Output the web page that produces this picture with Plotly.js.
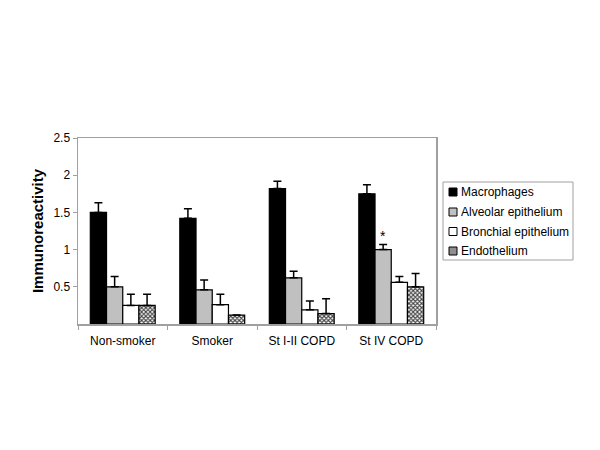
<!DOCTYPE html>
<html>
<head>
<meta charset="utf-8">
<script src="https://cdn.plot.ly/plotly-3.0.1.min.js"></script>
<style>html,body{margin:0;padding:0;background:#fff;}#chart{width:600px;height:450px;}</style>
</head>
<body>
<div id="chart"></div>
<script>
var categories = ["Non-smoker", "Smoker", "St I-II COPD", "St IV COPD"];
var seriesNames = ["Macrophages", "Alveolar epithelium", "Bronchial epithelium", "Endothelium"];
var macrophages = [1.50, 1.42, 1.82, 1.75];
var macrophagesErr = [0.13, 0.13, 0.10, 0.12];
var alveolar = [0.50, 0.46, 0.62, 1.00];
var alveolarErr = [0.14, 0.13, 0.09, 0.07];
var bronchial = [0.25, 0.26, 0.19, 0.56];
var bronchialErr = [0.15, 0.14, 0.12, 0.08];
var endothelium = [0.25, 0.12, 0.14, 0.50];
var endotheliumErr = [0.15, null, 0.20, 0.18];
var yTicks = [0.5, 1, 1.5, 2, 2.5];
var yTickLabels = ["0.5", "1", "1.5", "2", "2.5"];

var values = [macrophages, alveolar, bronchial, endothelium];
var errs = [macrophagesErr, alveolarErr, bronchialErr, endotheliumErr];
var fills = ["#000000", "#c0c0c0", "#ffffff", "#ffffff"];

var traces = values.map(function (v, i) {
  var t = {
    type: "bar",
    name: seriesNames[i],
    x: categories,
    y: v,
    marker: { color: fills[i], line: { color: "#000", width: 1.2 } },
    error_y: {
      type: "data", symmetric: false,
      array: errs[i], arrayminus: errs[i].map(function () { return 0; }),
      color: "#000", thickness: 1.5, width: 4
    },
    showlegend: false,
    hoverinfo: "x+y+name"
  };
  if (i === 3) {
    t.marker.pattern = { shape: "x", size: 3, solidity: 0.6, fgcolor: "#444", bgcolor: "#fff" };
  }
  return t;
});

// plot area in pixels: x 78..436, y 138..324
var L = 78, R = 436, T = 138, B = 324;
function px(x) { return (x - L) / (R - L); }
function py(y) { return (B - y) / (B - T); }

var shapes = [
  { type: "rect", xref: "paper", yref: "paper", x0: px(443), x1: px(573), y0: py(260), y1: py(182),
    line: { color: "#a0a0a0", width: 1 }, fillcolor: "rgba(0,0,0,0)" }
];
var annotations = [];
var itemY = [192, 212, 231.5, 251];
seriesNames.forEach(function (n, i) {
  var sq = { type: "rect", xref: "paper", yref: "paper",
    x0: px(449), x1: px(457), y0: py(itemY[i] + 4), y1: py(itemY[i] - 4),
    line: { color: "#000", width: 1 }, fillcolor: i === 3 ? "#8f8f8f" : fills[i] };
  shapes.push(sq);
  annotations.push({ xref: "paper", yref: "paper", x: px(459), y: py(itemY[i]),
    xanchor: "left", yanchor: "middle", text: n, showarrow: false,
    font: { family: "Arial, Liberation Sans, sans-serif", size: 12, color: "#000" } });
});
annotations.push({ x: categories[3], y: alveolar[3] + alveolarErr[3], xref: "x", yref: "y",
  xshift: -8, yshift: -2, yanchor: "bottom", text: "*", showarrow: false,
  font: { family: "Arial, Liberation Sans, sans-serif", size: 14, color: "#000" } });

var layout = {
  width: 600, height: 450,
  margin: { l: L, r: 600 - R, t: T, b: 450 - B, pad: 0 },
  paper_bgcolor: "#fff", plot_bgcolor: "#fff",
  font: { family: "Arial, Liberation Sans, sans-serif", size: 12, color: "#000" },
  barmode: "group", bargap: 0.275, bargroupgap: 0,
  showlegend: false,
  xaxis: {
    type: "category", showgrid: false, zeroline: false,
    showline: true, linecolor: "#a0a0a0", linewidth: 1.5, mirror: true,
    ticks: "outside", tickson: "boundaries", ticklen: 4, tickcolor: "#a0a0a0",
    ticklabelstandoff: 5,
    tickfont: { size: 12, color: "#000" }, automargin: false
  },
  yaxis: {
    range: [0, 2.5], showgrid: false, zeroline: false,
    showline: true, linecolor: "#a0a0a0", linewidth: 1.5, mirror: true,
    ticks: "outside", ticklen: 4, tickcolor: "#a0a0a0",
    tickvals: yTicks, ticktext: yTickLabels,
    tickfont: { size: 12, color: "#000" }, automargin: false,
    title: { text: "Immunoreactivity", font: { size: 15, color: "#000", weight: "bold" }, standoff: 6 }
  },
  shapes: shapes,
  annotations: annotations
};

Plotly.newPlot("chart", traces, layout, { displayModeBar: false, staticPlot: true });
</script>
</body>
</html>
